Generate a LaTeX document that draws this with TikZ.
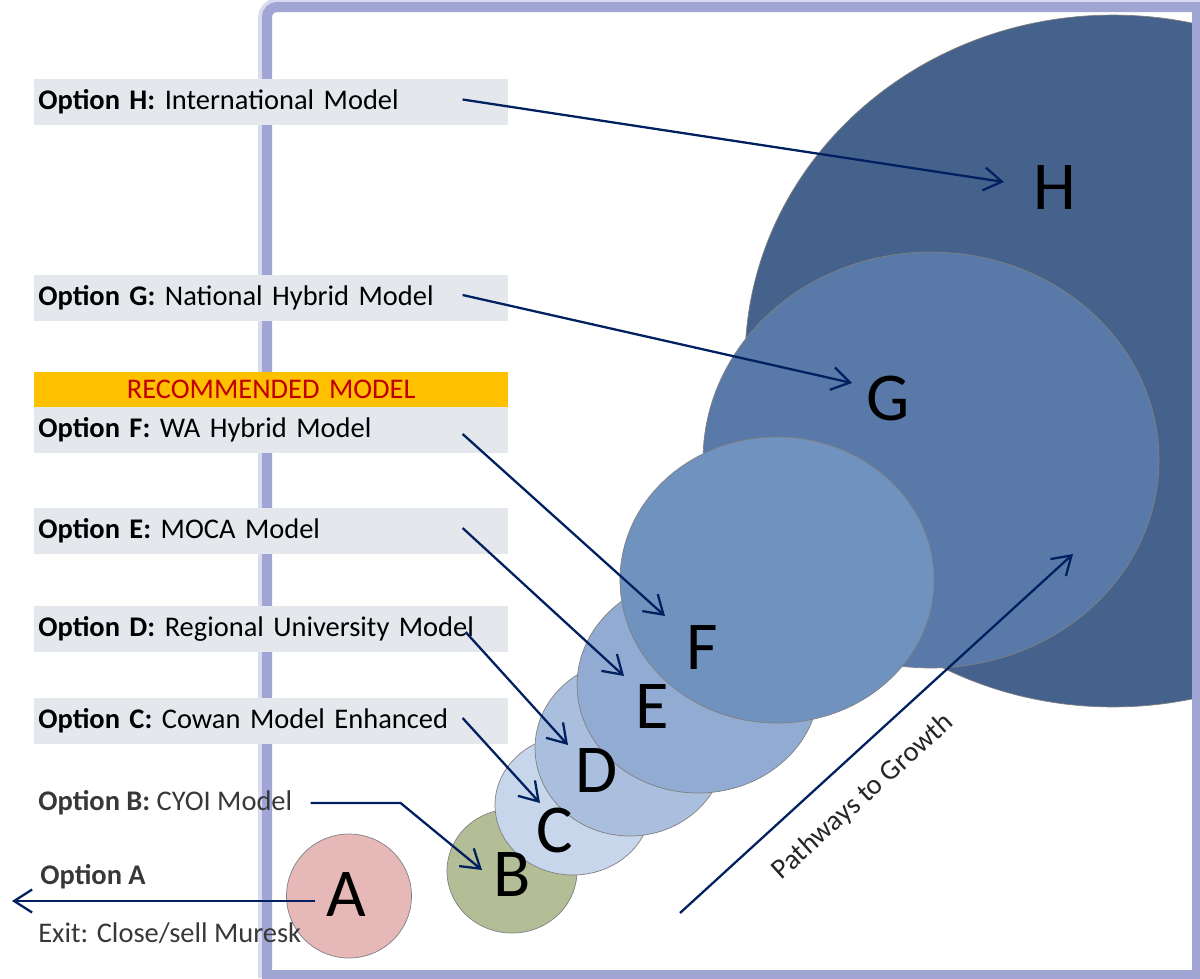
\documentclass[tikz,border=0pt]{standalone}
\usepackage{fontspec}
\setmainfont{Carlito}
\usetikzlibrary{arrows.meta, calc}
\definecolor{cFrame}{RGB}{160,165,212}
\definecolor{cBox}{RGB}{228,231,236}
\definecolor{cGold}{RGB}{255,192,0}
\definecolor{cRed}{RGB}{192,0,0}
\definecolor{cNavy}{RGB}{0,32,96}
\definecolor{cA}{RGB}{230,185,184}
\definecolor{cB}{RGB}{180,190,150}
\definecolor{cC}{RGB}{200,214,235}
\definecolor{cD}{RGB}{170,191,222}
\definecolor{cE}{RGB}{145,171,210}
\definecolor{cF}{RGB}{111,146,191}
\definecolor{cG}{RGB}{89,121,168}
\definecolor{cH}{RGB}{68,98,140}
\tikzset{
	optbox/.style ={rectangle, anchor=west, fill=cBox, minimum height=0.92cm, text width=9.32cm, inner xsep=0.08cm, inner ysep=0pt, align=left, font=\fontsize{16.2}{18}\selectfont},
	recbox/.style ={rectangle, anchor=west, fill=cGold, text=cRed, minimum height=0.7cm, text width=9.32cm, inner xsep=0.08cm, inner ysep=0pt, align=center, font=\fontsize{16.2}{18}\selectfont},
	plain/.style  ={anchor=west, inner sep=0pt, text=black!78, font=\fontsize{16.2}{18}\selectfont},
	bubble/.style ={draw=black!50, line width=0.4pt},
	letter/.style ={inner sep=0pt, font=\fontsize{39}{40}\selectfont},
	ptr/.style    ={-{Straight Barb[length=3.6mm, width=4.6mm]}, line width=1.3pt, cNavy},
}
\begin{document}
\begin{tikzpicture}[x=0.02cm, y=-0.02cm]
	\useasboundingbox (0,0) rectangle (1200,978);
	% ---- bubbles ----
	\begin{scope}
		\clip (272,12) rectangle (1193,973);
		\filldraw[bubble, fill=cH] (1113,361) ellipse [x radius=7.36cm, y radius=6.92cm];
		\filldraw[bubble, fill=cG] (931,460) ellipse [x radius=4.56cm, y radius=4.16cm];
		\filldraw[bubble, fill=cA] (349,896) ellipse [x radius=1.25cm, y radius=1.24cm];
		\filldraw[bubble, fill=cB] (512,871) ellipse [x radius=1.3cm, y radius=1.24cm];
		\filldraw[bubble, fill=cC] (573,805) ellipse [x radius=1.56cm, y radius=1.4cm];
		\filldraw[bubble, fill=cD] (630,748) ellipse [x radius=1.9cm, y radius=1.76cm];
		\filldraw[bubble, fill=cE] (698,685) ellipse [x radius=2.42cm, y radius=2.16cm];
		\filldraw[bubble, fill=cF] (777,580) ellipse [x radius=3.14cm, y radius=2.86cm];
	\end{scope}
	% ---- frame ----
	\draw[cFrame!40, line width=0.2cm] (263,978) [rounded corners=0.3cm] -- (263,3) [sharp corners] -- (1200,3);
	\draw[cFrame, line width=0.2cm] (267,975) [rounded corners=0.2cm] -- (267,7) [sharp corners] -- (1197,7) -- (1197,975) -- cycle;
	% ---- letters ----
	\node[letter] (lA) at (346,895) {A};
	\node[letter] (lB) at (512,875) {B};
	\node[letter] (lC) at (555,830) {C};
	\node[letter] (lD) at (597,771) {D};
	\node[letter] (lE) at (652,707) {E};
	\node[letter] (lF) at (702,648) {F};
	\node[letter] (lG) at (888,398) {G};
	\node[letter] (lH) at (1055,188) {H};
	% ---- option labels ----
	\node[optbox] (optH) at (34,101.5) {\textbf{Option H:} International Model};
	\node[optbox] (optG) at (34,298) {\textbf{Option G:} National Hybrid Model};
	\node[recbox] (rec) at (34,389.5) {RECOMMENDED MODEL};
	\node[optbox] (optF) at (34,430) {\textbf{Option F:} WA Hybrid Model};
	\node[optbox] (optE) at (34,531) {\textbf{Option E:} MOCA Model};
	\node[optbox] (optD) at (34,629) {\textbf{Option D:} Regional University Model};
	\node[optbox] (optC) at (34,721) {\textbf{Option C:} Cowan Model Enhanced};
	\node[plain] (optB) at (38,803) {\textbf{Option B:} CYOI Model};
	\node[plain] (optA) at (40,877) {\textbf{Option A}};
	\node[plain] (exitA) at (38,933) {Exit: Close/sell Muresk};
	% ---- arrow ends ----
	\coordinate (tH) at (1004,182);
	\coordinate (tG) at (852,383);
	\coordinate (tF) at (665,616);
	\coordinate (tE) at (624,676);
	\coordinate (tD) at (568,745);
	\coordinate (tC) at (540,803);
	\coordinate (tB) at (482,870);
	\coordinate (tA) at (12,901);
	\coordinate (gS) at (680,913);
	\coordinate (gE) at (1073,554);
	% ---- arrows ----
	\draw[ptr] ($(optH.east)+(-46,-2)$) -- (tH);
	\draw[ptr] ($(optG.east)+(-46,-3)$) -- (tG);
	\draw[ptr] ($(optF.east)+(-46,4)$) -- (tF);
	\draw[ptr] ($(optE.east)+(-46,-3)$) -- (tE);
	\draw[ptr] ($(optD.east)+(-43,3)$) -- (tD);
	\draw[ptr] ($(optC.east)+(-46,-3)$) -- (tC);
	\draw[ptr] ($(optB.east)+(18,0)$) -- ++(90,0) -- (tB);
	\draw[ptr] ($(lA.west)+(-11,6)$) -- (tA);
	\draw[ptr] (gS) -- (gE);
	\node[rotate=42, inner sep=0pt, text=black!85, font=\fontsize{16.2}{18}\selectfont] (grow) at (863,797) {Pathways to Growth};
\end{tikzpicture}
\end{document}
